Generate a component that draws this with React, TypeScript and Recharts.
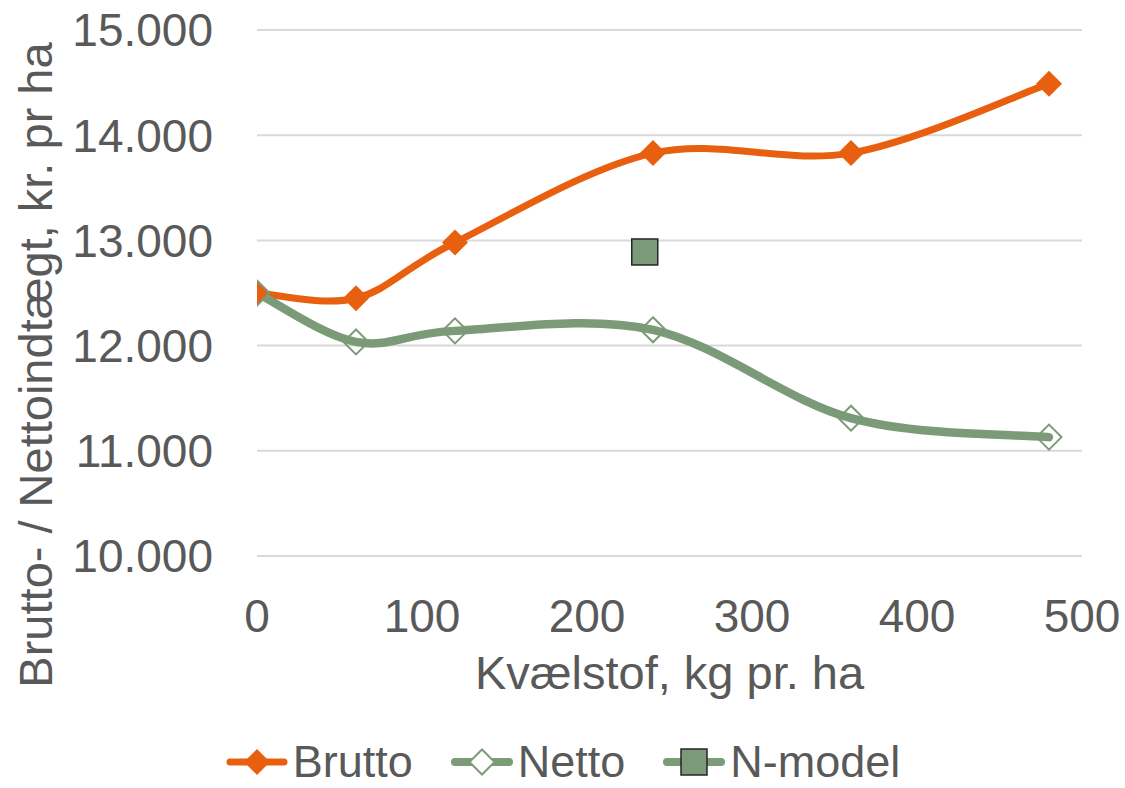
import React from "react";
import { LineChart, Line, XAxis, YAxis, CartesianGrid, Label } from "recharts";

// ---- data ----
const nitrogen = [0, 60, 120, 240, 360, 480];
const brutto = [12500, 12450, 12980, 13830, 13830, 14490];
const netto = [12500, 12035, 12140, 12150, 11310, 11130];
const nModelX = [235];
const nModelY = [12890];
const xTicks = [0, 100, 200, 300, 400, 500];
const yTicks = [10000, 11000, 12000, 13000, 14000, 15000];
const seriesNames = ["Brutto", "Netto", "N-model"];
const xTitle = "Kvælstof, kg pr. ha";
const yTitle = "Brutto- / Nettoindtægt, kr. pr ha";

const bruttoData = nitrogen.map((x, i) => ({ x, y: brutto[i] }));
const nettoData = nitrogen.map((x, i) => ({ x, y: netto[i] }));
const nModelData = nModelX.map((x, i) => ({ x, y: nModelY[i] }));

const ORANGE = "#E8600F";
const GREEN = "#7B9A77";
const TEXT = "#595959";
const FONT = "'Liberation Sans', Arial, sans-serif";

// Excel-like smoothed line (Catmull-Rom style bezier)
function excelSmooth(context: any) {
  let pts: number[][] = [];
  return {
    areaStart() {},
    areaEnd() {},
    lineStart() {
      pts = [];
    },
    point(x: number, y: number) {
      pts.push([+x, +y]);
    },
    lineEnd() {
      const n = pts.length;
      if (n === 0) return;
      context.moveTo(pts[0][0], pts[0][1]);
      for (let i = 0; i < n - 1; i++) {
        const p0 = pts[Math.max(i - 1, 0)];
        const p1 = pts[i];
        const p2 = pts[i + 1];
        const p3 = pts[Math.min(i + 2, n - 1)];
        context.bezierCurveTo(
          p1[0] + (p2[0] - p0[0]) / 6,
          p1[1] + (p2[1] - p0[1]) / 6,
          p2[0] - (p3[0] - p1[0]) / 6,
          p2[1] - (p3[1] - p1[1]) / 6,
          p2[0],
          p2[1]
        );
      }
    },
  };
}

const fmt = (n: number) =>
  `${Math.floor(n / 1000)}.${String(n % 1000).padStart(3, "0")}`;

const FilledDiamond = (props: any) => {
  const { cx, cy, index } = props;
  const r = 13;
  return (
    <path
      key={`bd-${index}`}
      d={`M${cx},${cy - r}L${cx + r},${cy}L${cx},${cy + r}L${cx - r},${cy}Z`}
      fill={ORANGE}
    />
  );
};

const HollowDiamond = (props: any) => {
  const { cx, cy, index } = props;
  const r = 12.5;
  return (
    <path
      key={`nd-${index}`}
      d={`M${cx},${cy - r}L${cx + r},${cy}L${cx},${cy + r}L${cx - r},${cy}Z`}
      fill="none"
      stroke={GREEN}
      strokeWidth={2}
    />
  );
};

const Square = (props: any) => {
  const { cx, cy, index } = props;
  const s = 13;
  return (
    <rect
      key={`sq-${index}`}
      x={cx - s}
      y={cy - s}
      width={2 * s}
      height={2 * s}
      fill={GREEN}
      stroke="#262626"
      strokeWidth={1.5}
    />
  );
};

const XTitle = (props: any) => {
  const vb = props.viewBox || {};
  return (
    <text
      x={vb.x + vb.width / 2}
      y={vb.y + 133}
      textAnchor="middle"
      fill={TEXT}
      fontSize={47}
      fontFamily={FONT}
    >
      {xTitle}
    </text>
  );
};

const YTitle = (props: any) => {
  const vb = props.viewBox || {};
  const x = vb.x + 52;
  const y = vb.y + vb.height / 2 + 72;
  return (
    <text
      x={x}
      y={y}
      transform={`rotate(-90, ${x}, ${y})`}
      textAnchor="middle"
      fill={TEXT}
      fontSize={47}
      fontFamily={FONT}
    >
      {yTitle}
    </text>
  );
};

const LegendIcon = ({ kind }: { kind: number }) => {
  const color = kind === 0 ? ORANGE : GREEN;
  const sw = kind === 0 ? 7 : 8;
  return (
    <svg width={64} height={34} style={{ display: "block" }}>
      <line x1={5} y1={17} x2={59} y2={17} stroke={color} strokeWidth={sw} strokeLinecap="round" />
      {kind === 0 && <path d="M32,4L45,17L32,30L19,17Z" fill={ORANGE} />}
      {kind === 1 && (
        <path d="M32,4.5L44.5,17L32,29.5L19.5,17Z" fill="#fff" stroke={GREEN} strokeWidth={2} />
      )}
      {kind === 2 && (
        <rect x={19} y={4} width={26} height={26} fill={GREEN} stroke="#262626" strokeWidth={1.5} />
      )}
    </svg>
  );
};

export default function App() {
  return (
    <div style={{ position: "absolute", left: 0, top: 0, width: 1125, height: 788, background: "#fff", overflow: "hidden" }}>
      <LineChart
        width={1125}
        height={788}
        margin={{ top: 30, right: 43, left: 0, bottom: 0 }}
      >
        <CartesianGrid vertical={false} stroke="#D9D9D9" strokeWidth={2} />
        <XAxis
          type="number"
          dataKey="x"
          domain={[0, 500]}
          ticks={xTicks}
          allowDataOverflow
          axisLine={false}
          tickLine={false}
          tickSize={0}
          tickMargin={43}
          height={232}
          tick={{ fill: TEXT, fontSize: 46, fontFamily: FONT }}
        >
          <Label content={XTitle} />
        </XAxis>
        <YAxis
          type="number"
          domain={[10000, 15000]}
          ticks={yTicks}
          allowDataOverflow
          axisLine={false}
          tickLine={false}
          tickSize={0}
          tickMargin={44}
          width={257}
          tickFormatter={fmt}
          tick={{ fill: TEXT, fontSize: 46, fontFamily: FONT }}
        >
          <Label content={YTitle} />
        </YAxis>
        <Line
          data={bruttoData}
          dataKey="y"
          name={seriesNames[0]}
          type={excelSmooth as any}
          stroke={ORANGE}
          strokeWidth={7}
          strokeLinecap="round"
          dot={FilledDiamond}
          activeDot={false}
          isAnimationActive={false}
        />
        <Line
          data={nettoData}
          dataKey="y"
          name={seriesNames[1]}
          type={excelSmooth as any}
          stroke={GREEN}
          strokeWidth={8.5}
          strokeLinecap="round"
          dot={HollowDiamond}
          activeDot={false}
          isAnimationActive={false}
        />
        <Line
          data={nModelData}
          dataKey="y"
          name={seriesNames[2]}
          stroke="none"
          dot={Square}
          activeDot={false}
          isAnimationActive={false}
        />
      </LineChart>
      <div
        style={{
          position: "absolute",
          left: 0,
          top: 745,
          width: 1125,
          height: 34,
          display: "flex",
          justifyContent: "center",
          alignItems: "center",
          fontFamily: FONT,
          fontSize: 45,
          lineHeight: "34px",
          color: TEXT,
        }}
      >
        {seriesNames.map((name, i) => (
          <div
            key={name}
            style={{ display: "flex", alignItems: "center", marginLeft: i === 0 ? 0 : 37 }}
          >
            <LegendIcon kind={i} />
            <span style={{ marginLeft: 4, whiteSpace: "nowrap" }}>{name}</span>
          </div>
        ))}
      </div>
    </div>
  );
}
